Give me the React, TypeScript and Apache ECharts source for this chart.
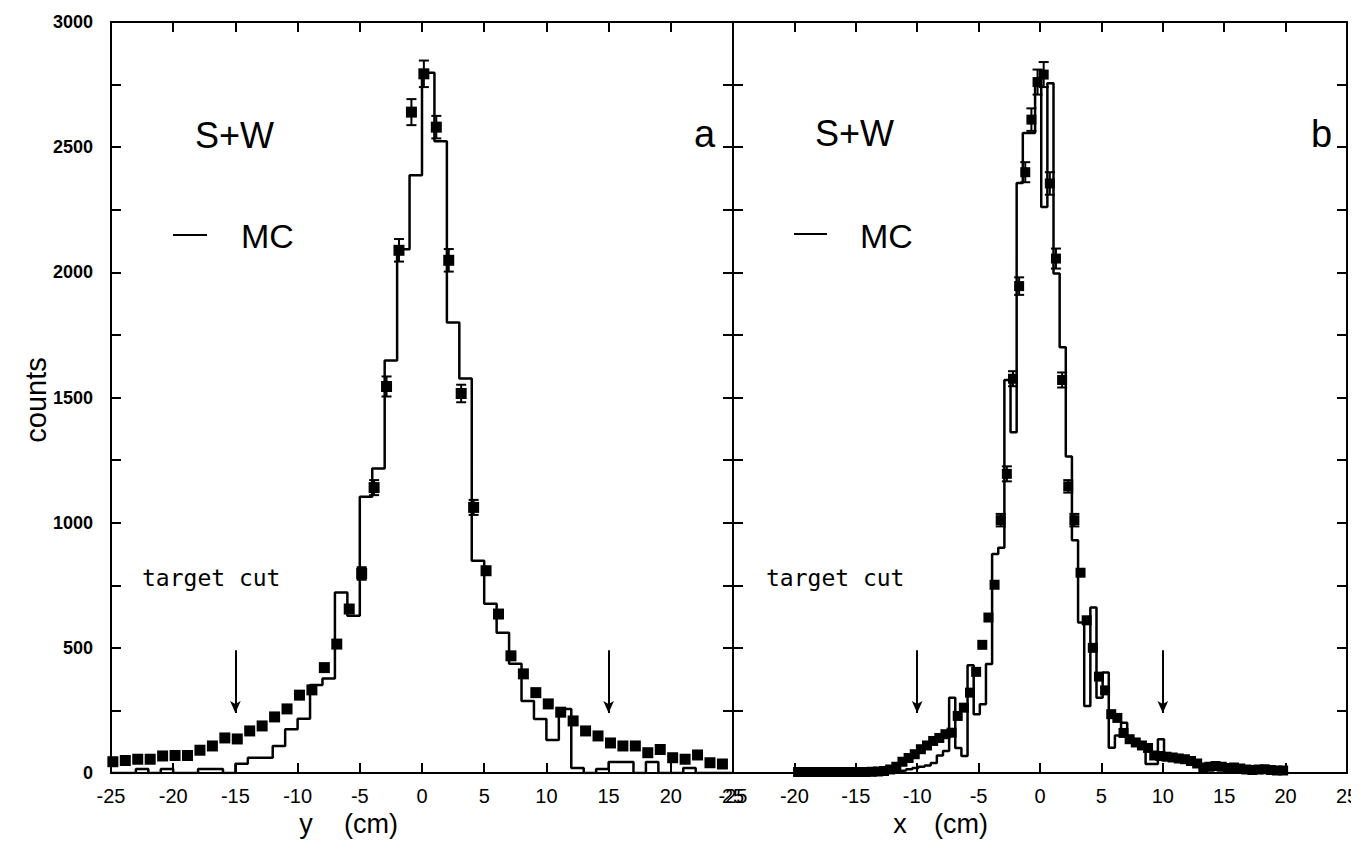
import React, { useEffect, useRef } from "react";
import * as echarts from "echarts";

// ---------- Panel a (y coordinate) ----------
const binStartA = -25; // first MC bin edge (cm)
const binWidthA = 1; // cm
// MC histogram contents, bins [-25,-24) ... [24,25)
const mcA = [
  0, 0, 16, 0, 16, 0, 0, 16, 16, 0,
  37, 61, 61, 108, 175, 217, 352, 377, 721, 628,
  1104, 1216, 1648, 2092, 2388, 2797, 2524, 1800, 1576, 848,
  676, 560, 436, 288, 216, 132, 256, 20, 0, 16,
  44, 44, 0, 44, 0, 0, 20, 0, 0, 0,
];
const dataStartA = -24.85; // position of first data point (cm)
const dataStepA = 1;
const dataA = [
  45, 50, 55, 55, 68, 70, 70, 91, 108, 140,
  136, 168, 188, 224, 256, 311, 332, 421, 515, 655,
  797, 1140, 1544, 2088, 2640, 2793, 2580, 2048, 1516, 1061,
  808, 635, 468, 396, 321, 276, 243, 208, 168, 148,
  120, 108, 108, 81, 94, 61, 55, 72, 41, 36,
];
const errA = [
  0, 0, 0, 0, 0, 0, 0, 0, 0, 0,
  0, 0, 0, 0, 0, 0, 0, 0, 0, 0,
  25, 30, 40, 45, 52, 53, 45, 45, 35, 30,
  0, 0, 0, 0, 0, 0, 0, 0, 0, 0,
  0, 0, 0, 0, 0, 0, 0, 0, 0, 0,
];
const cutA = [-15, 15];

// ---------- Panel b (x coordinate) ----------
const binStartB = -19.9;
const binWidthB = 0.5;
const mcB = [
  3, 3, 3, 3, 3, 3, 3, 3, 3, 3,
  3, 3, 4, 4, 5, 6, 8, 10, 15, 20,
  25, 30, 40, 70, 88, 301, 100, 68, 430, 235,
  275, 435, 875, 900, 1570, 1361, 2357, 2557, 2557, 2748,
  2261, 2755, 1995, 1701, 1264, 930, 601, 268, 661, 301,
  401, 101, 150, 201, 128, 120, 115, 36, 36, 135,
  60, 55, 50, 45, 40, 35, 28, 25, 22, 20,
  18, 16, 15, 14, 12, 12, 10, 10, 8, 8,
];
const dataStartB = -19.7;
const dataStepB = 0.5;
const dataB = [
  4, 4, 4, 4, 4, 4, 4, 4, 4, 4,
  4, 4, 5, 6, 8, 14, 25, 45, 60, 75,
  95, 110, 128, 140, 155, 161, 228, 261, 321, 404,
  512, 621, 752, 1010, 1195, 1575, 1945, 2400, 2610, 2760,
  2790, 2355, 2055, 1570, 1145, 1010, 800, 610, 500, 385,
  330, 235, 220, 160, 135, 122, 110, 100, 70, 68,
  65, 62, 58, 55, 48, 38, 22, 25, 28, 25,
  20, 22, 18, 14, 12, 14, 15, 12, 10, 10,
];
const errB = [
  0, 0, 0, 0, 0, 0, 0, 0, 0, 0,
  0, 0, 0, 0, 0, 0, 0, 0, 0, 0,
  0, 0, 0, 0, 0, 0, 0, 0, 0, 0,
  0, 0, 0, 25, 30, 30, 35, 40, 45, 50,
  50, 45, 40, 30, 25, 25, 0, 0, 0, 0,
  0, 0, 0, 0, 0, 0, 0, 0, 0, 0,
  0, 0, 0, 0, 0, 0, 0, 0, 0, 0,
  0, 0, 0, 0, 0, 0, 0, 0, 0, 0,
];
const cutB = [-10, 10];
const cutArrowTop = 490;
const cutArrowBottom = 240;

const xMin = -25;
const xMax = 25;
const xStep = 5;
const yMin = 0;
const yMax = 3000;
const yStep = 250;
const yLabelStep = 500;

function stepLine(start: number, width: number, vals: number[]) {
  const pts: number[][] = [[start, 0]];
  vals.forEach((v, i) => {
    const e0 = start + i * width;
    pts.push([e0, v]);
    pts.push([e0 + width, v]);
  });
  pts.push([start + vals.length * width, 0]);
  return pts;
}
function points(start: number, step: number, vals: number[], errs: number[]) {
  return vals.map((v, i) => [start + i * step, v, errs[i]]);
}

const BLACK = "#000";
const LABEL_FONT = "Liberation Sans";

function xAxisDef(gridIndex: number, position: "top" | "bottom") {
  return {
    type: "value",
    gridIndex,
    position,
    min: xMin,
    max: xMax,
    interval: xStep,
    axisLine: { show: true, onZero: false, lineStyle: { color: BLACK, width: 2 } },
    axisTick: { show: true, inside: true, length: 10, lineStyle: { color: BLACK, width: 2 } },
    axisLabel: {
      show: position === "bottom",
      color: BLACK,
      fontFamily: LABEL_FONT,
      fontSize: 20,
      margin: 13,
      showMinLabel: true,
      showMaxLabel: true,
    },
    splitLine: { show: false },
  };
}
function yAxisDef(gridIndex: number, position: "left" | "right", labels: boolean) {
  return {
    type: "value",
    gridIndex,
    position,
    min: yMin,
    max: yMax,
    interval: yStep,
    axisLine: { show: true, onZero: false, lineStyle: { color: BLACK, width: 2 } },
    axisTick: { show: true, inside: true, length: 10, lineStyle: { color: BLACK, width: 2 } },
    axisLabel: {
      show: labels,
      color: BLACK,
      fontFamily: LABEL_FONT,
      fontWeight: "bold",
      fontSize: 18,
      margin: 18,
      showMinLabel: true,
      showMaxLabel: true,
      formatter: (v: number) => (v % yLabelStep === 0 ? String(v) : ""),
    },
    splitLine: { show: false },
  };
}

function errorBarSeries(xAxisIndex: number, yAxisIndex: number, data: number[][]) {
  return {
    type: "custom",
    xAxisIndex,
    yAxisIndex,
    data,
    silent: true,
    z: 4,
    renderItem: (_p: any, api: any) => {
      const x = api.value(0);
      const y = api.value(1);
      const e = api.value(2);
      if (!e) return { type: "group", children: [] };
      const t = api.coord([x, y + e]);
      const b = api.coord([x, y - e]);
      const st = { stroke: BLACK, lineWidth: 2 };
      return {
        type: "group",
        children: [
          { type: "line", shape: { x1: t[0], y1: t[1], x2: b[0], y2: b[1] }, style: st },
          { type: "line", shape: { x1: t[0] - 5, y1: t[1], x2: t[0] + 5, y2: t[1] }, style: st },
          { type: "line", shape: { x1: b[0] - 5, y1: b[1], x2: b[0] + 5, y2: b[1] }, style: st },
        ],
      };
    },
  };
}

function cutMarks(cuts: number[]) {
  return {
    silent: true,
    symbol: ["none", "arrow"],
    symbolSize: [8, 12],
    label: { show: false },
    lineStyle: { color: BLACK, width: 2, type: "solid" },
    data: cuts.map((c) => [
      { coord: [c, cutArrowTop] },
      { coord: [c, cutArrowBottom] },
    ]),
  };
}

export default function App() {
  const ref = useRef<HTMLDivElement>(null);
  useEffect(() => {
    if (!ref.current) return;
    const chart = echarts.init(ref.current, undefined, { renderer: "svg" });
    const textStyle = (size: number, family = "Liberation Sans") => ({
      fill: BLACK,
      fontSize: size,
      fontFamily: family,
    });
    const option: any = {
      animation: false,
      backgroundColor: "#fff",
      grid: [
        { left: 111, top: 22, width: 622, height: 751, containLabel: false, outerBoundsMode: "none" },
        { left: 733, top: 22, width: 614, height: 751, containLabel: false, outerBoundsMode: "none" },
      ],
      xAxis: [
        xAxisDef(0, "bottom"),
        xAxisDef(0, "top"),
        xAxisDef(1, "bottom"),
        xAxisDef(1, "top"),
      ],
      yAxis: [
        yAxisDef(0, "left", true),
        yAxisDef(0, "right", false),
        yAxisDef(1, "left", false),
        yAxisDef(1, "right", false),
      ],
      series: [
        {
          type: "line",
          xAxisIndex: 0,
          yAxisIndex: 0,
          data: stepLine(binStartA, binWidthA, mcA),
          showSymbol: false,
          lineStyle: { color: BLACK, width: 2.5 },
          silent: true,
          z: 2,
          markLine: cutMarks(cutA),
        },
        {
          type: "scatter",
          xAxisIndex: 0,
          yAxisIndex: 0,
          data: points(dataStartA, dataStepA, dataA, errA),
          symbol: "rect",
          symbolSize: 11,
          itemStyle: { color: BLACK, opacity: 1 },
          silent: true,
          z: 5,
        },
        errorBarSeries(0, 0, points(dataStartA, dataStepA, dataA, errA)),
        {
          type: "line",
          xAxisIndex: 2,
          yAxisIndex: 2,
          data: stepLine(binStartB, binWidthB, mcB),
          showSymbol: false,
          lineStyle: { color: BLACK, width: 2.5 },
          silent: true,
          z: 2,
          markLine: cutMarks(cutB),
        },
        {
          type: "scatter",
          xAxisIndex: 2,
          yAxisIndex: 2,
          data: points(dataStartB, dataStepB, dataB, errB),
          symbol: "rect",
          symbolSize: 10,
          itemStyle: { color: BLACK, opacity: 1 },
          silent: true,
          z: 5,
        },
        errorBarSeries(2, 2, points(dataStartB, dataStepB, dataB, errB)),
      ],
      graphic: [
        // panel a annotations
        { type: "text", x: 195, y: 135, style: { ...textStyle(36), text: "S+W", verticalAlign: "middle" } },
        { type: "line", shape: { x1: 173, y1: 235, x2: 207, y2: 235 }, style: { stroke: BLACK, lineWidth: 2 } },
        { type: "text", x: 241, y: 236, style: { ...textStyle(34), text: "MC", verticalAlign: "middle" } },
        { type: "text", x: 694, y: 134, style: { ...textStyle(38), text: "a", verticalAlign: "middle" } },
        { type: "text", x: 142, y: 578, style: { ...textStyle(23, "DejaVu Sans Mono"), text: "target cut", verticalAlign: "middle" } },
        // panel b annotations
        { type: "text", x: 815, y: 133, style: { ...textStyle(36), text: "S+W", verticalAlign: "middle" } },
        { type: "line", shape: { x1: 794, y1: 234, x2: 827, y2: 234 }, style: { stroke: BLACK, lineWidth: 2 } },
        { type: "text", x: 860, y: 236, style: { ...textStyle(34), text: "MC", verticalAlign: "middle" } },
        { type: "text", x: 1311, y: 134, style: { ...textStyle(38), text: "b", verticalAlign: "middle" } },
        { type: "text", x: 766, y: 578, style: { ...textStyle(23, "DejaVu Sans Mono"), text: "target cut", verticalAlign: "middle" } },
        // axis titles
        {
          type: "text",
          x: 36,
          y: 400,
          rotation: Math.PI / 2,
          style: { ...textStyle(29), text: "counts", align: "center", verticalAlign: "middle" },
        },
        { type: "text", x: 306, y: 824, style: { ...textStyle(27), text: "y", align: "center", verticalAlign: "middle" } },
        { type: "text", x: 344, y: 824, style: { ...textStyle(27), text: "(cm)", verticalAlign: "middle" } },
        { type: "text", x: 900, y: 824, style: { ...textStyle(27), text: "x", align: "center", verticalAlign: "middle" } },
        { type: "text", x: 934, y: 824, style: { ...textStyle(27), text: "(cm)", verticalAlign: "middle" } },
      ],
    };
    chart.setOption(option);
    return () => chart.dispose();
  }, []);
  return (
    <div
      ref={ref}
      style={{ position: "absolute", left: 0, top: 0, width: 1351, height: 850, background: "#fff" }}
    />
  );
}
